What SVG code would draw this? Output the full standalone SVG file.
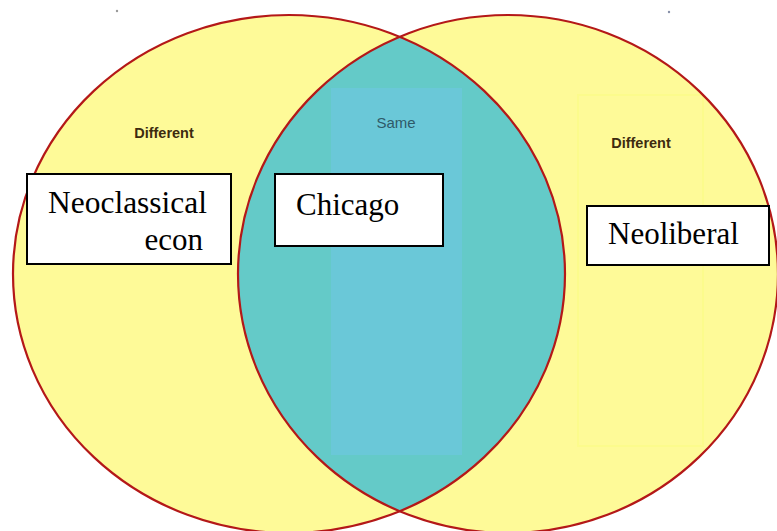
<svg xmlns="http://www.w3.org/2000/svg" width="777" height="531" viewBox="0 0 777 531">
<style>
.set{fill:#fefa98;stroke:none}
.edge{fill:none;stroke:#b41818;stroke-width:2.2}
.box{fill:#ffffff;stroke:#000000;stroke-width:2}
.lbl{font-family:"Liberation Serif","Times New Roman",serif;font-size:31px;fill:#000}
.diff{font-family:"Liberation Sans",Arial,sans-serif;font-weight:bold;font-size:14.5px;fill:#3d2b0f}
.same{font-family:"Liberation Sans",Arial,sans-serif;font-size:15px;fill:#2f5a68}
</style>
<defs>
<clipPath id="clipL"><ellipse cx="289" cy="274" rx="276" ry="259"/></clipPath>
<clipPath id="clipR"><ellipse cx="508" cy="274" rx="270" ry="259"/></clipPath>
</defs>
<rect width="777" height="531" fill="#ffffff"/>
<circle cx="117" cy="11" r="1.2" fill="#999"/>
<circle cx="669" cy="12" r="1.2" fill="#8890a8"/>
<g id="set-left">
<ellipse class="set" cx="289" cy="274" rx="276" ry="259"/>
</g>
<g id="set-right">
<ellipse class="set" cx="508" cy="274" rx="270" ry="259"/>
<rect x="578" y="95" width="125" height="351" fill="none" stroke="#fcfb8c" stroke-width="2"/>
</g>
<g id="overlap" clip-path="url(#clipL)">
<g clip-path="url(#clipR)">
<rect x="0" y="0" width="777" height="531" fill="#64cac8"/>
<rect x="331" y="88" width="131" height="367" fill="#6ac8d8"/>
</g>
</g>
<g id="outlines">
<ellipse class="edge" cx="289" cy="274" rx="276" ry="259"/>
<ellipse class="edge" cx="508" cy="274" rx="270" ry="259"/>
</g>
<text class="diff" x="164" y="138" text-anchor="middle">Different</text>
<text class="same" x="396" y="128" text-anchor="middle">Same</text>
<text class="diff" x="641" y="148" text-anchor="middle">Different</text>
<g id="neoclassical">
<rect class="box" x="27" y="174" width="204" height="90"/>
<text class="lbl" x="48" y="213" textLength="159" lengthAdjust="spacingAndGlyphs">Neoclassical</text>
<text class="lbl" x="203" y="250" text-anchor="end">econ</text>
</g>
<g id="chicago">
<rect class="box" x="275" y="174" width="168" height="72"/>
<text class="lbl" x="296" y="215">Chicago</text>
</g>
<g id="neoliberal">
<rect class="box" x="587" y="206" width="182" height="59"/>
<text class="lbl" x="608" y="244">Neoliberal</text>
</g>
<g id="connectors"/>
</svg>
